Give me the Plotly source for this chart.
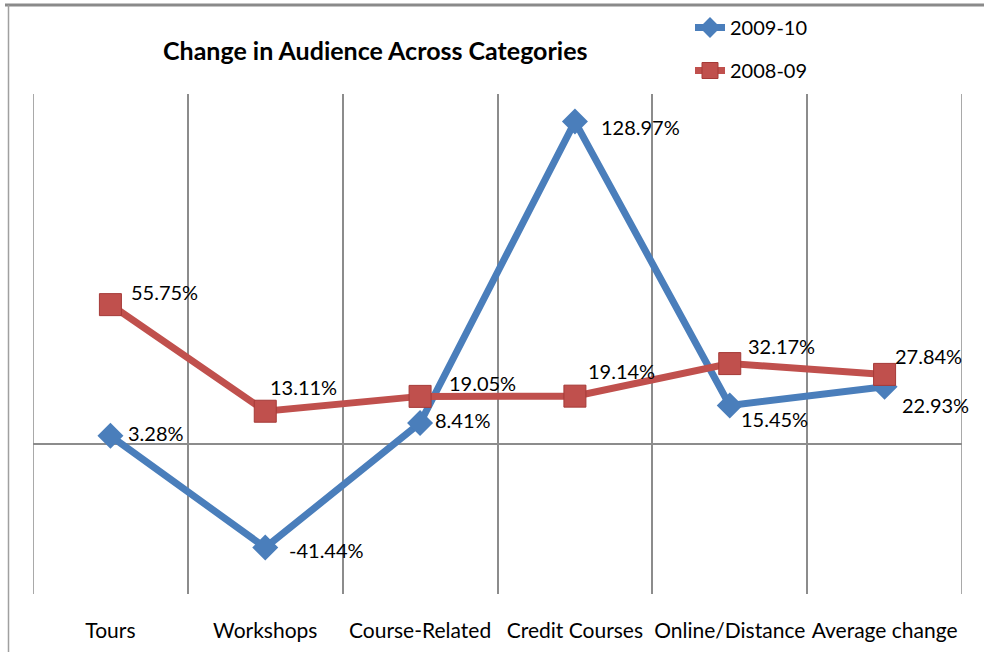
import plotly.graph_objects as go

categories = ["Tours", "Workshops", "Course-Related", "Credit Courses", "Online/Distance", "Average change"]
series_2009_10 = [3.28, -41.44, 8.41, 128.97, 15.45, 22.93]
series_2008_09 = [55.75, 13.11, 19.05, 19.14, 32.17, 27.84]

FONT = "Lato"
BLUE = "#4A7EBB"
RED = "#C0504D"
GRID = "#8C8C8C"

xs = list(range(len(categories)))

W, H = 984, 652
L, R, T, B = 33, 22, 94, 58
pw, ph = W - L - R, H - T - B

def px_x(x):
    return (x - L) / pw

def px_y(y):
    return (H - B - y) / ph

fig = go.Figure()
fig.add_trace(go.Scatter(
    x=xs, y=series_2009_10, name="2009-10", mode="lines+markers",
    line=dict(color=BLUE, width=7),
    marker=dict(symbol="diamond", size=20, color=BLUE),
    legendgroup="a",
))
fig.add_trace(go.Scatter(
    x=xs, y=series_2008_09, name="2008-09", mode="lines+markers",
    line=dict(color=RED, width=7),
    marker=dict(symbol="square", size=22, color=RED, line=dict(color="#A53A37", width=1)),
    legendgroup="b",
))

# label offsets (pixels) for each point
blue_off = [(16, 3), (22, -2), (13, 3), (24, -5), (9, -14), (15, -18)]
red_off = [(19, 13), (3, 24), (27, 13), (11, 25), (16, 18), (8, 18)]

annotations = []
for i, (v, (dx, dy)) in enumerate(zip(series_2009_10, blue_off)):
    annotations.append(dict(x=xs[i], y=v, text=f"{v:.2f}%", showarrow=False,
                            xanchor="left", yanchor="middle", xshift=dx, yshift=dy,
                            font=dict(family=FONT, size=20, color="#000")))
for i, (v, (dx, dy)) in enumerate(zip(series_2008_09, red_off)):
    annotations.append(dict(x=xs[i], y=v, text=f"{v:.2f}%", showarrow=False,
                            xanchor="left", yanchor="middle", xshift=dx, yshift=dy,
                            font=dict(family=FONT, size=20, color="#000")))

annotations.append(dict(x=px_x(375), y=px_y(50), xref="paper", yref="paper",
                        xanchor="center", yanchor="middle",
                        text="<b>Change in Audience Across Categories</b>",
                        showarrow=False, font=dict(family=FONT, size=25, color="#000")))

shapes = [
    dict(type="line", xref="paper", yref="paper", x0=px_x(5), x1=px_x(984), y0=px_y(5), y1=px_y(5),
         line=dict(color="#8A8A8A", width=3)),
    dict(type="line", xref="paper", yref="paper", x0=px_x(8.5), x1=px_x(8.5), y0=px_y(5), y1=px_y(652),
         line=dict(color="#A0A0A0", width=1.5)),
]
for xe in (-0.5, 5.5):
    shapes.append(dict(type="line", xref="x", yref="paper", x0=xe, x1=xe, y0=0, y1=1,
                       line=dict(color=GRID, width=1.5), layer="below"))

fig.update_layout(
    width=W, height=H,
    margin=dict(l=L, r=R, t=T, b=B, autoexpand=False),
    paper_bgcolor="white", plot_bgcolor="white",
    annotations=annotations,
    shapes=shapes,
    showlegend=True,
    legend=dict(x=px_x(690), y=px_y(8), xanchor="left", yanchor="top",
                font=dict(family=FONT, size=20, color="#000"),
                tracegroupgap=14, bgcolor="rgba(0,0,0,0)"),
    xaxis=dict(range=[-0.5, 5.5], tickmode="array", tickvals=xs, ticktext=categories,
               showgrid=False, zeroline=False, showline=False, ticks="",
               tickfont=dict(family=FONT, size=21, color="#000"),
               minor=dict(tickmode="array", tickvals=[0.5, 1.5, 2.5, 3.5, 4.5],
                          showgrid=True, gridcolor=GRID, gridwidth=1.5, ticks=""),
               ticklabelstandoff=22,
               fixedrange=True),
    yaxis=dict(range=[-60, 140], showgrid=False, showticklabels=False, ticks="",
               zeroline=True, zerolinecolor=GRID, zerolinewidth=1.5, showline=False),
)

fig.write_html("out.html", config={"displayModeBar": False},
               post_script="document.body.style.margin='0';document.body.style.overflow='hidden';")
